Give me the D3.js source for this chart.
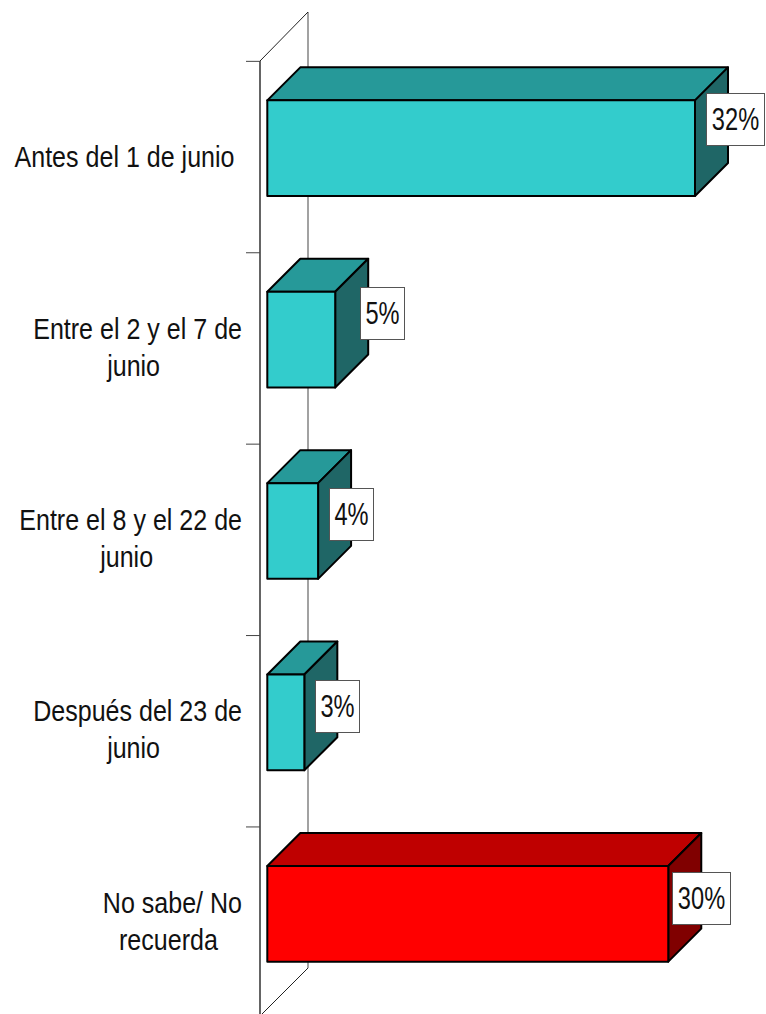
<!DOCTYPE html>
<html><head><meta charset="utf-8">
<script src="https://cdn.jsdelivr.net/npm/d3@7/dist/d3.min.js"></script>
<style>html,body{margin:0;padding:0;background:#fff}svg{display:block}
text{font-family:"Liberation Sans",Arial,sans-serif;fill:#111}</style>
</head><body>
<script>
const categories = ["Antes del 1 de junio","Entre el 2 y el 7 de|junio","Entre el 8 y el 22 de|junio","Después del 23 de|junio","No sabe/ No|recuerda"];
const values = [32, 5.08, 3.8, 2.77, 30];
const valueLabels = ["32%","5%","4%","3%","30%"];
const barKinds = ["main","main","main","main","other"];
const labelDx = [10.5, 24.5, 10.7, 10.6, 3.7];
const labelDy = [-7.8, -4.3, 4.9, 5.5, 5.6];
const colors = {main:{front:"#33CCCC",top:"#269999",side:"#1F6666"},other:{front:"#FF0000",top:"#BF0000",side:"#800000"}};

const W=766,H=1014,depth=33,wallX=260,fs=30,sx=0.835,valFs=31.5,valSx=0.75;
const svg=d3.select("body").append("svg").attr("width",W).attr("height",H).attr("viewBox",`0 0 ${W} ${H}`);
const x=d3.scaleLinear().domain([0,32]).range([267.3,695]);
const y=d3.scaleBand().domain(categories).range([52.5,1009.5]).paddingInner(0.5).paddingOuter(0.25);
const h=y.bandwidth();
const tickY=c=>y(c)-39;

// condensed text: real text, squeezed horizontally
function narrow(sel,px,py,anchor,str,size=fs,scale=sx){
  sel.append("text").attr("transform",`translate(${px},${py}) scale(${scale},1)`)
    .attr("font-size",size).attr("text-anchor",anchor).text(str);
}

// wall
const wall=svg.append("g").attr("fill","none");
wall.append("path").attr("d",`M${wallX+48},12V968`).attr("stroke","#707070").attr("stroke-width",1.3);
wall.append("path").attr("d",`M${wallX},61L${wallX+48},12`).attr("stroke","#222").attr("stroke-width",1);
wall.append("path").attr("d",`M${wallX+48},968L${wallX+2},1014`).attr("stroke","#222").attr("stroke-width",1);
wall.append("path").attr("d",`M${wallX},61V1014`).attr("stroke","#111").attr("stroke-width",1.3);
wall.selectAll("line.t").data(categories).join("line").attr("class","t")
  .attr("x1",wallX-14).attr("x2",wallX).attr("y1",tickY).attr("y2",tickY).attr("stroke","#444").attr("stroke-width",1);

// bars
const data=categories.map((c,i)=>({c,v:values[i],l:valueLabels[i],k:colors[barKinds[i]],dx:labelDx[i],dy:labelDy[i]}));
const bars=svg.selectAll("g.bar").data(data).join("g").attr("class","bar")
  .attr("stroke","#000").attr("stroke-width",2).attr("stroke-linejoin","round");
bars.append("path").attr("fill",d=>d.k.top).attr("d",d=>{const a=x(0),b=x(d.v),t=y(d.c);
  return `M${a},${t}L${a+depth},${t-depth}H${b+depth}L${b},${t}Z`;});
bars.append("path").attr("fill",d=>d.k.side).attr("d",d=>{const b=x(d.v),t=y(d.c);
  return `M${b},${t}L${b+depth},${t-depth}V${t-depth+h}L${b},${t+h}Z`;});
bars.append("rect").attr("fill",d=>d.k.front).attr("x",x(0)).attr("y",d=>y(d.c)).attr("width",d=>x(d.v)-x(0)).attr("height",h);

// value labels
const lab=svg.selectAll("g.val").data(data).join("g").attr("class","val");
lab.each(function(d){
  const g=d3.select(this);
  const w=d.l.length>2?58:44;
  const left=Math.round(x(d.v)+d.dx), top=Math.round(y(d.c)+d.dy);
  g.append("rect").attr("fill","#fff").attr("stroke","#555").attr("stroke-width",1)
    .attr("x",left+.5).attr("y",top+.5).attr("width",w).attr("height",52);
  narrow(g,left+w/2+.5,top+37,"middle",d.l,valFs,valSx);
});

// category labels
const cat=svg.selectAll("g.cat").data(categories).join("g").attr("class","cat");
cat.each(function(c){
  const lines=c.split("|"),g=d3.select(this),cy=y(c)+h/2;
  if(lines.length===1){
    narrow(g,234.5,cy+19,"end",lines[0]);
  } else {
    narrow(g,242,cy-1,"end",lines[0]);
    const w=g.select("text").node().getComputedTextLength()*sx;
    narrow(g,242-w/2-4,cy+36,"middle",lines[1]);
  }
});
</script>
</body></html>
